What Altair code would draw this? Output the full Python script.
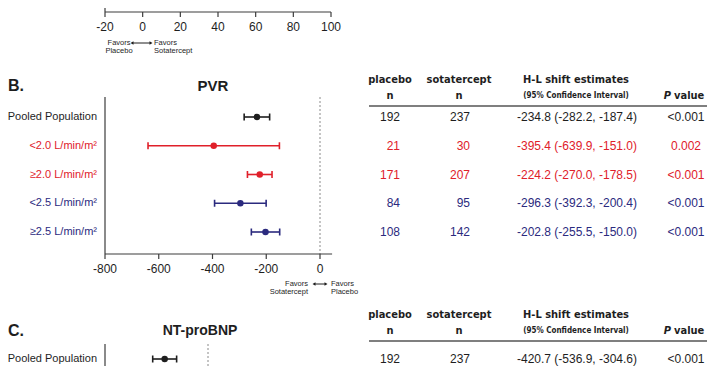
import altair as alt
import pandas as pd

# ---------------- data ----------------
# panel A (only its x axis is visible at the top)
a_ticks = [-20, 0, 20, 40, 60, 80, 100]

# panel B: PVR
groups = ["Pooled Population", "<2.0 L/min/m²", "≥2.0 L/min/m²", "<2.5 L/min/m²", "≥2.5 L/min/m²"]
group_colors = ["#1e1e1e", "#e0202a", "#e0202a", "#2b2a7e", "#2b2a7e"]
pvr_est = [-234.8, -395.4, -224.2, -296.3, -202.8]
pvr_lo = [-282.2, -639.9, -270.0, -392.3, -255.5]
pvr_hi = [-187.4, -151.0, -178.5, -200.4, -150.0]
pvr_placebo_n = [192, 21, 171, 84, 108]
pvr_sota_n = [237, 30, 207, 95, 142]
pvr_p = ["<0.001", "0.002", "<0.001", "<0.001", "<0.001"]
pvr_ticks = [-800, -600, -400, -200, 0]
pvr_axis_end = 45

# panel C: NT-proBNP (top row only visible)
ntp_groups = ["Pooled Population"]
ntp_est = [-420.7]
ntp_lo = [-536.9]
ntp_hi = [-304.6]
ntp_placebo_n = [192]
ntp_sota_n = [237]
ntp_p = ["<0.001"]
ntp_domain = [-1000, 0]

# ---------------- style ----------------
BLACK = "#1e1e1e"
AX = "#3c3c3c"
FONT = "Liberation Sans, Arial, sans-serif"
NARROW = "Liberation Sans Narrow, DejaVu Sans Condensed, Roboto, Liberation Sans, sans-serif"
one = pd.DataFrame({"k": [0]})


def label(text, x, y, size=12, bold=False, align="center", color=BLACK, font=FONT, italic=False):
    kw = dict(text=text, fontSize=size, align=align, baseline="middle", color=color, font=font)
    if bold:
        kw["fontWeight"] = "bold"
    if italic:
        kw["fontStyle"] = "italic"
    return alt.Chart(one).mark_text(**kw).encode(x=alt.value(x), y=alt.value(y))


def hline(x1, x2, y, width=1.2, color=AX):
    return alt.Chart(one).mark_rule(color=color, strokeWidth=width).encode(
        x=alt.value(x1), x2=alt.value(x2), y=alt.value(y))


def arrow(x1, x2, y):
    line = hline(x1 + 2, x2 - 2, y, 1, BLACK)
    left = alt.Chart(one).mark_point(shape="triangle-left", filled=True, size=12, color=BLACK, opacity=1).encode(
        x=alt.value(x1 + 2), y=alt.value(y))
    right = alt.Chart(one).mark_point(shape="triangle-right", filled=True, size=12, color=BLACK, opacity=1).encode(
        x=alt.value(x2 - 2), y=alt.value(y))
    return [line, left, right]


def favors(x_left, x_right, arrow_x1, arrow_x2, y, left_words, right_words, left_align):
    out = [
        label(left_words[0], x_left, y, 7.5, align=left_align),
        label(left_words[1], x_left, y + 8, 7.5, align=left_align),
        label(right_words[0], x_right, y, 7.5, align="left"),
        label(right_words[1], x_right, y + 8, 7.5, align="left"),
    ]
    return out + arrow(arrow_x1, arrow_x2, y)


def x_axis(scale, ticks, x_end, y):
    tdf = pd.DataFrame({"v": ticks, "lab": [str(t) for t in ticks]})
    ext = pd.DataFrame({"a": [ticks[0]], "b": [x_end]})
    return [
        alt.Chart(ext).mark_rule(color=AX, strokeWidth=1.2).encode(
            x=alt.X("a:Q", scale=scale, axis=None), x2="b:Q", y=alt.value(y)),
        alt.Chart(tdf).mark_rule(color=AX, strokeWidth=1.2).encode(
            x=alt.X("v:Q", scale=scale, axis=None), y=alt.value(y), y2=alt.value(y + 5)),
        alt.Chart(tdf).mark_text(fontSize=12, font=FONT, color=BLACK, baseline="middle").encode(
            x=alt.X("v:Q", scale=scale, axis=None), y=alt.value(y + 15), text="lab:N"),
    ]


def table_header(y1, y2, yline):
    hs = 11
    return [
        label("placebo", 382, y1, hs, bold=True, font=NARROW),
        label("n", 382, y2, hs, bold=True, font=NARROW),
        label("sotatercept", 451, y1, hs, bold=True, font=NARROW),
        label("n", 451, y2, hs, bold=True, font=NARROW),
        label("H-L shift estimates", 568, y1, hs, bold=True, font=NARROW),
        label("(95% Confidence Interval)", 568, y2, 8, bold=True, font=NARROW),
        label("P", 663, y2, hs, bold=True, italic=True, align="right", font=NARROW),
        label("value", 666, y2, hs, bold=True, align="left", font=NARROW),
        hline(361, 707, yline, 1.5, "#555555"),
    ]


def forest(df, xs, ys, cs, y_top, y_bot):
    X = lambda f: alt.X(f, scale=xs, axis=None)
    Y = alt.Y("group:N", scale=ys, axis=None)
    C = alt.Color("group:N", scale=cs, legend=None)
    left = pd.DataFrame({"v": [xs.domain[0]], "z": [0]})
    txt = dict(fontSize=12, font=FONT, baseline="middle")
    return [
        alt.Chart(left).mark_rule(color=AX, strokeWidth=1.2).encode(
            x=X("v:Q"), y=alt.value(y_top), y2=alt.value(y_bot)),
        alt.Chart(left).mark_rule(color="#8a8a8a", strokeWidth=1, strokeDash=[2, 2]).encode(
            x=X("z:Q"), y=alt.value(y_top), y2=alt.value(y_bot)),
        alt.Chart(df).mark_rule(strokeWidth=1.6).encode(x=X("lo:Q"), x2="hi:Q", y=Y, color=C),
        alt.Chart(df).mark_tick(thickness=1.6, size=7, opacity=1).encode(x=X("lo:Q"), y=Y, color=C),
        alt.Chart(df).mark_tick(thickness=1.6, size=7, opacity=1).encode(x=X("hi:Q"), y=Y, color=C),
        alt.Chart(df).mark_circle(size=42, opacity=1).encode(x=X("est:Q"), y=Y, color=C),
        alt.Chart(df).mark_text(fontSize=11, font=FONT, align="right", baseline="middle").encode(
            x=alt.value(89), y=Y, color=C, text="group:N"),
        alt.Chart(df).mark_text(align="right", **txt).encode(
            x=alt.value(392), y=Y, color=C, text="placebo:N"),
        alt.Chart(df).mark_text(align="right", **txt).encode(
            x=alt.value(462), y=Y, color=C, text="sota:N"),
        alt.Chart(df).mark_text(align="center", **txt).encode(
            x=alt.value(569), y=Y, color=C, text="hl:N"),
        alt.Chart(df).mark_text(align="center", **txt).encode(
            x=alt.value(678), y=Y, color=C, text="p:N"),
    ]


def make_df(g, est, lo, hi, pn, sn, p):
    return pd.DataFrame({
        "group": g, "est": est, "lo": lo, "hi": hi,
        "placebo": [str(v) for v in pn], "sota": [str(v) for v in sn],
        "hl": [f"{e:.1f} ({l:.1f}, {h:.1f})" for e, l, h in zip(est, lo, hi)],
        "p": p,
    })


# ---------------- panel A remnant ----------------
xA = alt.Scale(domain=[a_ticks[0], a_ticks[-1]], range=[97, 323], nice=False, zero=False)
a_left = pd.DataFrame({"v": [a_ticks[0]]})
panelA = alt.layer(
    alt.Chart(a_left).mark_rule(color=AX, strokeWidth=1.2).encode(
        x=alt.X("v:Q", scale=xA, axis=None), y=alt.value(0), y2=alt.value(4)),
    *x_axis(xA, a_ticks, a_ticks[-1], 4),
    *favors(111, 146, 122, 145, 35, ["Favors", "Placebo"], ["Favors", "Sotatercept"], "center"),
)

# ---------------- panel B ----------------
pvr_df = make_df(groups, pvr_est, pvr_lo, pvr_hi, pvr_placebo_n, pvr_sota_n, pvr_p)
xB = alt.Scale(domain=[pvr_ticks[0], pvr_ticks[-1]], range=[97, 312], nice=False, zero=False)
yB = alt.Scale(type="point", domain=groups, range=[109, 224], padding=0)
cB = alt.Scale(domain=groups, range=group_colors)
panelB = alt.layer(
    label("B.", 0, 78, 16, bold=True, align="left"),
    label("PVR", 205, 78, 15, bold=True),
    *table_header(72, 88, 98),
    *forest(pvr_df, xB, yB, cB, 89, 246),
    *x_axis(xB, pvr_ticks, pvr_axis_end, 246),
    *favors(300, 323, 304, 320, 276, ["Favors", "Sotatercept"], ["Favors", "Placebo"], "right"),
)

# ---------------- panel C ----------------
ntp_df = make_df(ntp_groups, ntp_est, ntp_lo, ntp_hi, ntp_placebo_n, ntp_sota_n, ntp_p)
xC = alt.Scale(domain=ntp_domain, range=[97, 200], nice=False, zero=False)
yC = alt.Scale(type="point", domain=ntp_groups, range=[351, 351], padding=0)
cC = alt.Scale(domain=groups, range=group_colors)
panelC = alt.layer(
    label("C.", 0, 323, 16, bold=True, align="left"),
    label("NT-proBNP", 192, 323, 14, bold=True),
    *table_header(307, 323, 333),
    *forest(ntp_df, xC, yC, cC, 336, 360),
)

chart = alt.layer(panelA, panelB, panelC).resolve_scale(
    x="independent", y="independent", color="independent"
).properties(
    width=699, height=358, padding=0, autosize=alt.AutoSizeParams(type="none"),
    background="white",
).configure_view(stroke=None)

chart.save("out.html", embed_options={"renderer": "svg", "actions": False})
